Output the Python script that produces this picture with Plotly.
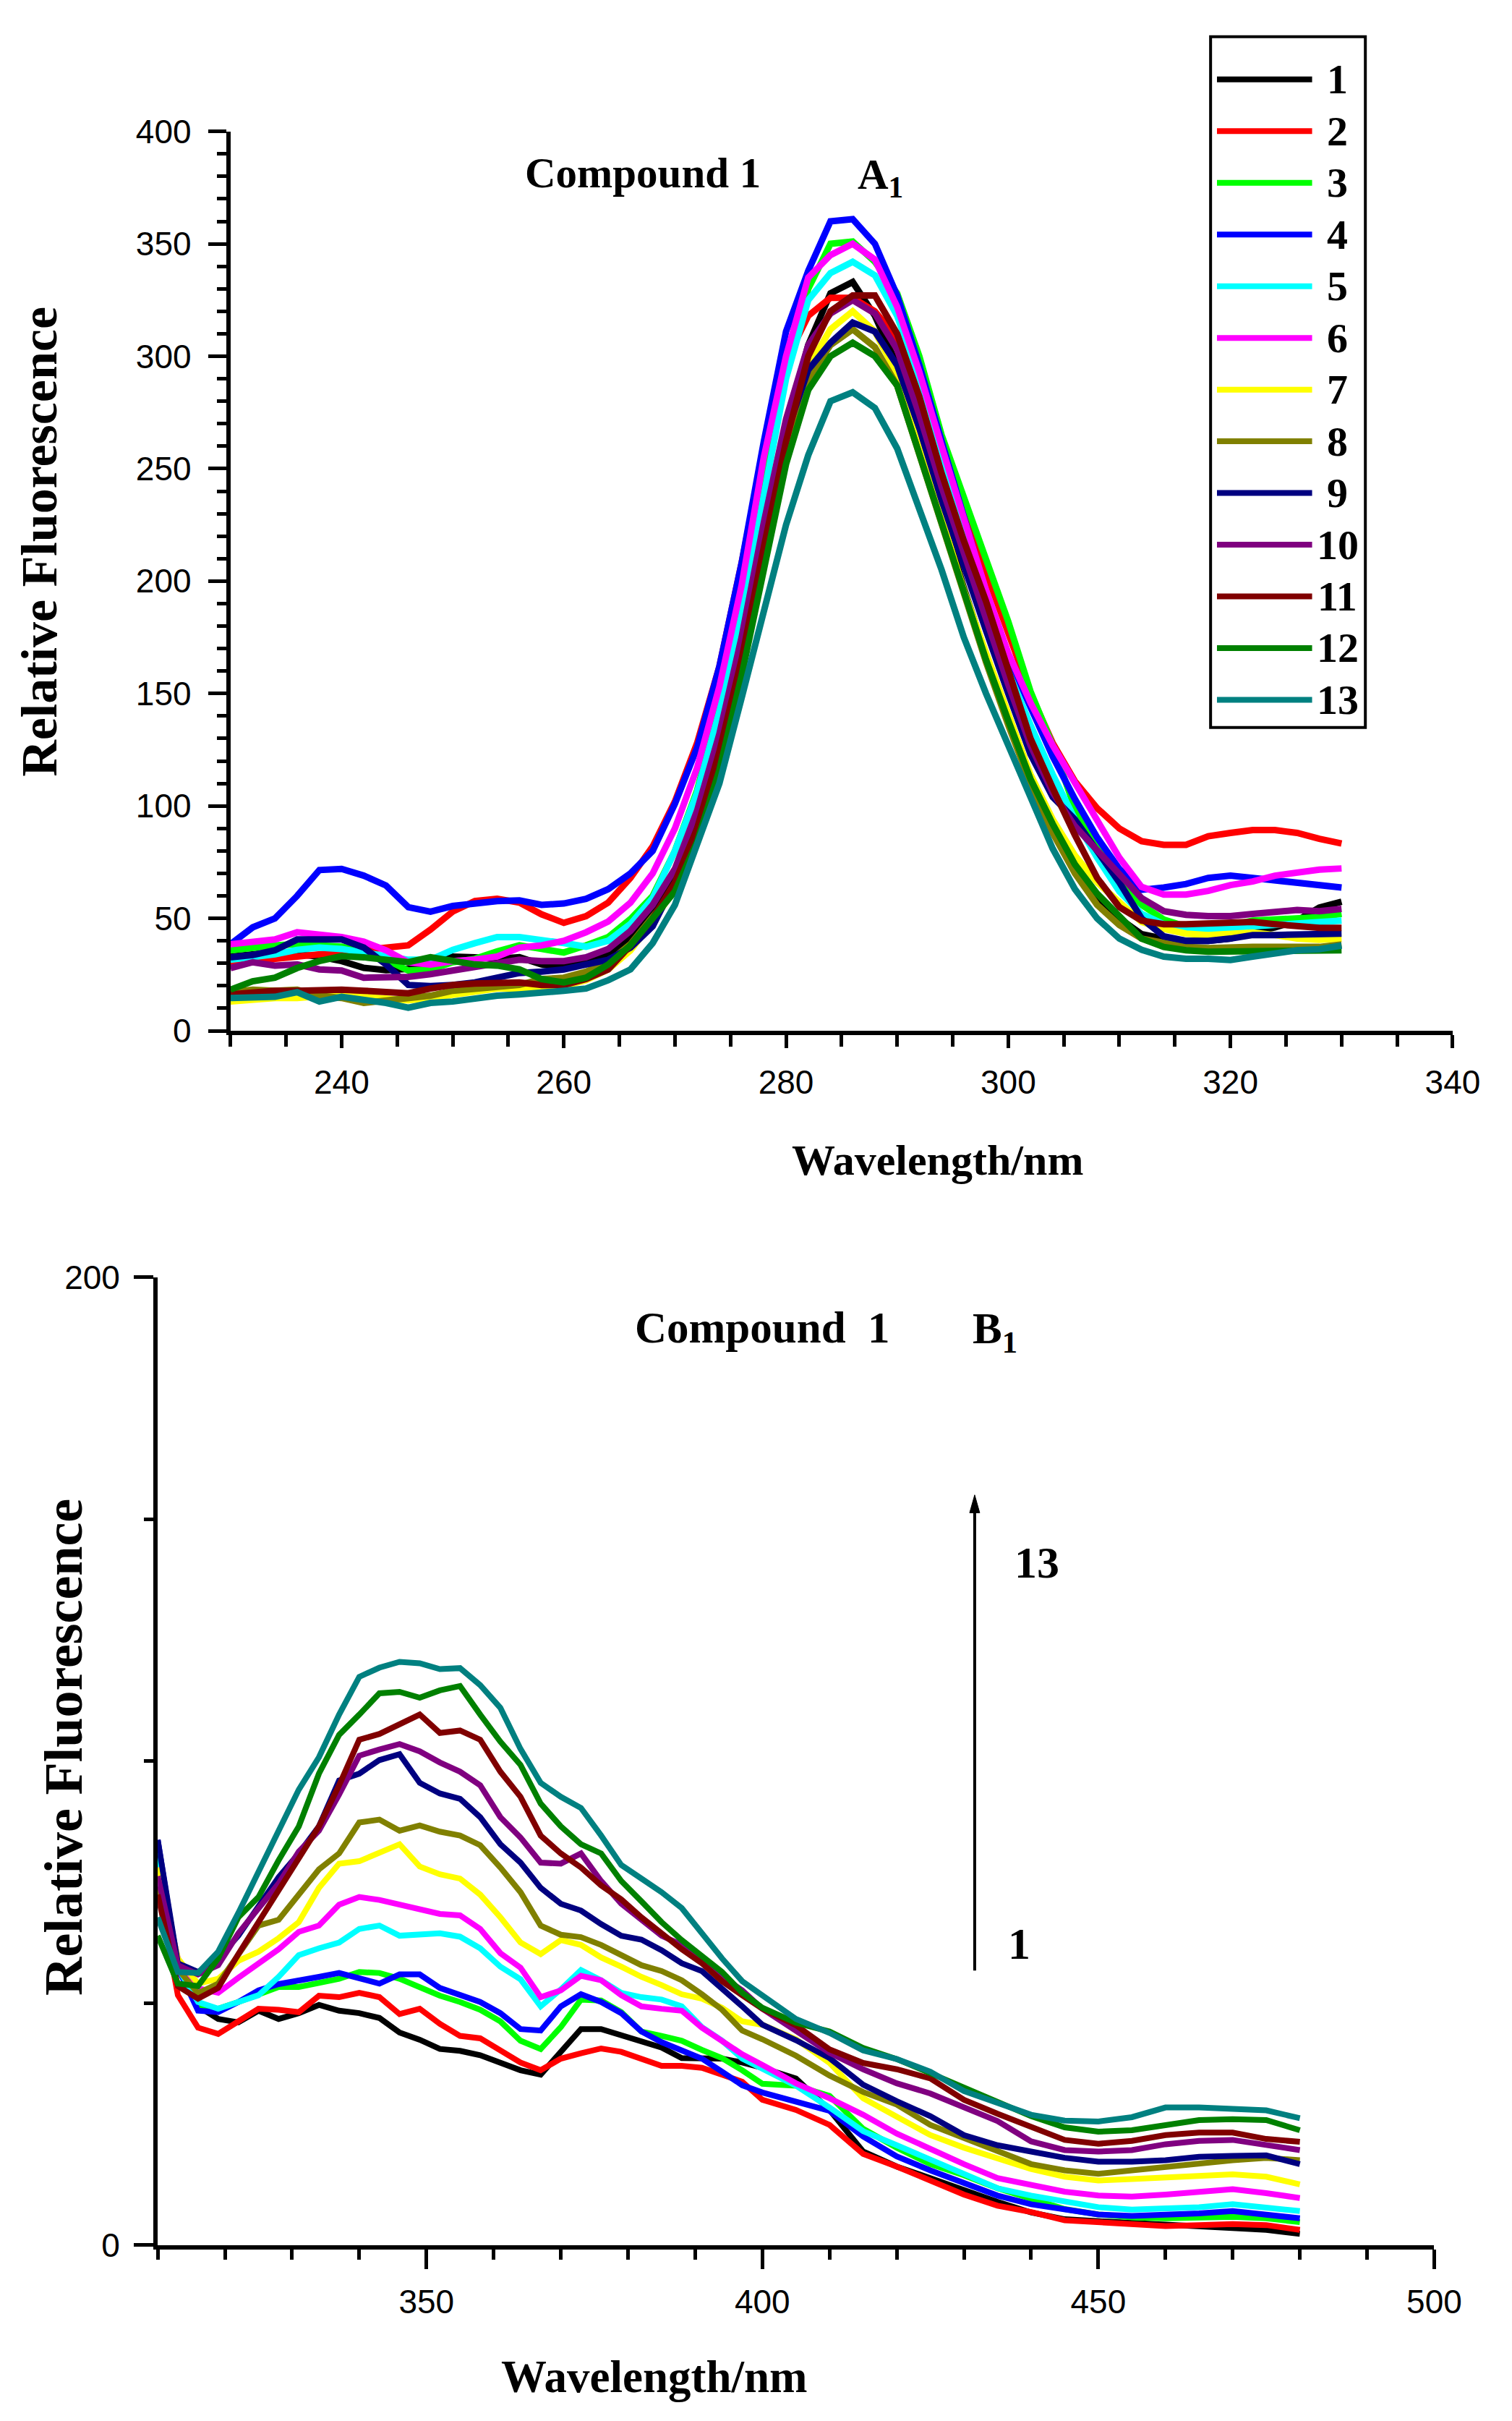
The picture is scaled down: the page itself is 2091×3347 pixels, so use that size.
import plotly.graph_objects as go

# page size of the reference picture
W, H = 2091, 3347

# ---- panel A: excitation spectra (230-330 nm) ----
wl_a = list(range(230, 331, 2))

a1 = [33, 34, 35, 34, 33, 31, 28, 27, 27.5, 30, 33, 32.7, 32, 32.7, 29.5, 28.4, 30, 33.7, 41.7, 53,
      70, 94, 128, 172, 222, 268, 305, 328, 333,
      318, 296, 265, 230, 197, 167, 138, 112, 90, 72, 59, 50, 43, 41, 40, 40, 41, 44, 46, 49, 54.8, 57.4]
a2 = [30, 31, 31.6, 32.4, 34, 34.8, 36, 37, 38, 45, 53, 57.7, 58.7, 57, 51.8, 48, 51, 57, 68, 82,
      102, 128, 162, 208, 258, 298, 318, 326, 326,
      320, 308, 285, 258, 232, 205, 176, 150, 128, 111, 99, 90, 84.3, 82.7, 82.7, 86.5, 88, 89.3, 89.3, 88, 85.4, 83.3]
a3 = [35.8, 37, 38, 38.5, 38, 37.4, 35.3, 31.6, 26.8, 27.3, 30.5, 32, 35.3, 38, 36.4, 34.8, 38, 41.7, 49.7, 60,
      80, 107, 144, 188, 240, 295, 330, 350, 351,
      342, 328, 300, 265, 238, 211, 182, 151, 127, 99, 82, 66, 56, 49.5, 46.3, 46.3, 46.8, 49, 49.5, 50, 50.5, 52]
a4 = [38.5, 46, 50, 60, 71.5, 72, 69, 64.6, 55, 53, 55.5, 56.6, 57.7, 58, 56, 56.6, 58.7, 63, 70, 80,
      101, 126, 162, 208, 262, 311, 338, 360, 361,
      350, 327, 296, 262, 228, 195, 166, 144, 122, 103, 86, 72, 62.7, 63.7, 65.3, 68, 69, 68, 66.9, 66.4, 64.8, 63.7]
a5 = [31.6, 32.7, 34, 36, 37, 36.4, 34.8, 33, 31.6, 31.6, 36, 39, 41.7, 41.7, 40, 39, 37.4, 40, 47.5, 59,
      80, 106, 142, 185, 238, 290, 325, 337, 342,
      336, 318, 290, 257, 223, 190, 160, 136, 114, 94, 77, 62, 52, 47.4, 45.8, 45.3, 45.8, 46.3, 46.8, 47.9, 48.4, 49]
a6 = [38.5, 39.6, 40.6, 43.8, 42.8, 41.7, 39.6, 35.8, 30.5, 29.5, 31, 31.6, 33, 37, 38, 40, 43.8, 48.6, 57, 70,
      90, 117, 153, 198, 255, 300, 335, 345, 350,
      343, 322, 293, 260, 227, 196, 168, 146, 127, 110, 93, 77, 64, 60.6, 60.6, 62.2, 64.8, 66.4, 69, 70.6, 71.7, 72.2]
a7 = [13, 14, 14.6, 14.6, 15.6, 16.2, 15.1, 14, 13.5, 14.6, 16.2, 17.8, 18.8, 18.8, 18.8, 19.9, 22.5, 27.3, 35.8, 48.6,
      63, 87, 120, 163, 212, 258, 295, 312, 320,
      311, 292, 262, 228, 196, 168, 140, 114, 94, 78, 66, 57, 48.4, 45.3, 43.2, 42.6, 43.2, 43.7, 42.6, 41, 40.5, 41]
a8 = [17.2, 18.3, 17.8, 18.3, 15.6, 14.6, 12.4, 13.5, 14.6, 15.6, 17.8, 18.8, 19.4, 20.4, 23, 23.6, 26.3, 30.5, 38.5, 50.7,
      63, 86, 118, 160, 208, 255, 290, 305, 312,
      304, 287, 256, 224, 194, 164, 136, 110, 88, 70, 56, 47, 41, 39, 37.3, 36.8, 37.3, 37.3, 37.3, 37.3, 37.3, 38.4]
a9 = [32.7, 33.7, 35.8, 40.6, 40.6, 40.6, 37, 29.5, 20.4, 19.9, 20.4, 21.5, 23.6, 25.7, 26.3, 27.3, 29.5, 31.6, 37, 46.5,
      66, 92, 127, 170, 220, 265, 294, 306, 315,
      311, 296, 268, 236, 206, 178, 150, 123, 104, 94, 80, 66, 50, 42, 40, 40, 41, 42.6, 42.6, 42.6, 43.2, 43.2]
a10 = [27.9, 30.5, 29, 29.5, 27.3, 26.8, 23.6, 24, 24, 25.2, 26.8, 28.4, 29.5, 31.6, 31, 31, 32.7, 36.4, 44.4, 56,
       72, 98, 132, 175, 226, 272, 305, 319, 325,
       319, 303, 274, 242, 212, 183, 154, 127, 106, 91, 80, 69.5, 59, 53.2, 51.6, 51, 51, 52, 53, 53.7, 53.2, 54.2]
a11 = [16.2, 17.2, 17.8, 17.8, 18.3, 18.3, 17.8, 17.2, 16.7, 18.8, 20.4, 21, 21.5, 21.5, 20.4, 20.4, 23, 27.3, 38, 50,
       66, 90, 124, 165, 215, 262, 300, 320, 327,
       327, 310, 282, 248, 218, 191, 160, 130, 108, 87, 68, 55, 49, 47.4, 47.4, 47.9, 48.4, 48.4, 47.4, 46.3, 45.8, 45.8]
a12 = [18.3, 22, 23.6, 27.9, 31, 33.2, 32.7, 31.6, 30.5, 32.7, 31, 29.5, 29, 27.3, 23, 21.5, 23.6, 29.5, 38, 49.7,
       62, 84, 116, 158, 205, 252, 285, 300, 306,
       300, 287, 256, 226, 195, 165, 138, 112, 92, 74, 61, 50.5, 41, 37.3, 35.8, 35.2, 35.2, 35.2, 35.2, 35.2, 35.2, 35.8]
a13 = [14.6, 14.6, 15.1, 17.2, 13, 15.1, 14, 12.4, 10.3, 12.4, 13, 14.6, 15.6, 16.2, 16.7, 17.8, 18.8, 22.5, 27.3, 39,
       56, 82, 110, 148, 187, 225, 256, 280, 284,
       277, 259, 232, 205, 175, 150, 127, 104, 81, 63, 50, 41, 36, 33, 32, 32, 31.5, 33, 34.7, 35.8, 36.3, 37.9]

# ---- panel B: emission spectra (310-480 nm) ----
wl_b = list(range(310, 401, 3)) + list(range(405, 481, 5))

b1 = [80, 58, 49.3, 46.7, 46, 48.4, 46.7, 47.9, 49.6, 48.4, 47.9, 46.9, 43.9, 42.4, 40.5, 40.1, 39.2, 37.5, 36.1, 35.2,
      39.9, 44.6, 44.6, 43.4, 42.2, 40.8, 38.6, 38.5, 38.5, 37.7, 36.6,
      34.4, 27.9, 19.3, 16.2, 13.8, 11.2, 8.9, 6.7, 5.3, 4.9, 4.6, 4.2, 3.9, 3.5, 3.1, 2.3]
b2 = [74, 51.6, 44.9, 43.6, 46.2, 48.8, 48.6, 48.1, 51.5, 51.2, 52.1, 51.2, 47.7, 48.8, 45.7, 43.2, 42.7, 40.2, 37.7, 36.1,
      38.5, 39.6, 40.6, 39.9, 38.5, 37, 37, 36.6, 35.2, 33.7, 30,
      27.9, 24.8, 18.8, 16.2, 13.3, 10.4, 8.1, 6.8, 5.1, 4.7, 4.3, 3.9, 4.1, 4.3, 4.1, 3.1]
b3 = [82, 58.2, 49.3, 48.8, 50.2, 51.8, 53.3, 53.3, 54, 55, 56.4, 56.2, 55, 53.1, 51.5, 50.2, 48.6, 46.2, 42.2, 40.5,
      45, 50.7, 50.5, 48.1, 44.1, 43.2, 42.2, 40.3, 38.6, 36.1, 33.3,
      32.9, 30.8, 24, 20.1, 16.7, 14.4, 11.7, 9.4, 7.4, 6.3, 5.7, 5.5, 5.7, 5.8, 5.5, 4.7]
b4 = [83.7, 57.3, 48.4, 48.1, 50.2, 52.6, 53.9, 54.5, 55.4, 56.2, 55.2, 54, 55.9, 55.9, 53.1, 51.6, 50.2, 47.9, 44.6, 44.3,
      49.3, 51.8, 50.2, 47.9, 44.1, 41.9, 40.1, 38.5, 35.8, 33, 31.5,
      29.5, 27.7, 22.4, 18.3, 15.4, 12.8, 10.2, 8.4, 7.2, 6.3, 6, 6.2, 6.5, 7, 6.3, 5.5]
b5 = [81, 57.3, 50.2, 48.8, 50.2, 51.6, 55.4, 59.9, 61.3, 62.5, 65.3, 66, 63.9, 64.1, 64.4, 63.7, 61.3, 57.5, 54.9, 49.3,
      52.8, 56.8, 54.7, 52.1, 51.2, 50.7, 49.3, 45, 42.2, 38.5, 36.5,
      32.9, 28.4, 23.5, 20.6, 17.7, 14.6, 11.7, 10.2, 9.1, 7.8, 7.3, 7.6, 7.8, 8.4, 7.6, 7]
b6 = [78, 59.2, 53, 52.1, 55.2, 58.2, 61.1, 64.7, 66, 70.3, 71.9, 71.3, 70.3, 69.4, 68.4, 68.1, 65.3, 60.3, 57.3, 51.2,
      52.6, 55.6, 54.7, 51.6, 49.3, 48.8, 48.4, 44.9, 42.2, 39.4, 37.2,
      33.4, 30.3, 26.9, 23, 19.8, 16.7, 13.8, 12.5, 11, 10.2, 10, 10.4, 11, 11.5, 10.7, 9.7]
b7 = [78, 59.2, 54, 55, 58.7, 60.6, 63.4, 66.7, 73.8, 78.8, 79.3, 80.9, 82.8, 78.2, 76.6, 75.7, 72.4, 67.7, 62.5, 60.1,
      63, 62, 59.4, 57.5, 55.4, 53.7, 51.8, 50.9, 49, 46.2, 45.5,
      42.5, 37.6, 30.3, 26.4, 22.7, 20.1, 18, 15.7, 14.1, 13.3, 13.6, 14, 14.4, 14.6, 14.1, 12.5]
b8 = [74, 57, 52, 54, 60, 66, 67.2, 72.4, 77.6, 80.9, 87.3, 87.9, 85.6, 86.7, 85.4, 84.6, 82.6, 78, 72.9, 66,
      64.1, 63.6, 62, 59.9, 57.8, 56.6, 54.7, 51.8, 48.6, 44.3, 42.5,
      39.1, 35, 31.6, 29, 24.8, 22.2, 19.6, 16.7, 15.4, 14.7, 15.4, 16.2, 17, 17.5, 18, 17.5]
b9 = [83.7, 58.2, 56.4, 59.2, 63.9, 70, 76, 80.9, 86.5, 96, 97.4, 100.2, 101.4, 95.5, 93.3, 92.2, 88.4, 82.8, 79, 73.8,
      70.5, 69.1, 66.3, 63.9, 63.1, 60.9, 58.2, 56.6, 53.1, 49.3, 45.5,
      42.3, 38.6, 33.1, 29.7, 26.6, 22.7, 20.6, 19.3, 18, 17.2, 17.2, 17.5, 18.2, 18.4, 18.5, 16.7]
b10 = [76.2, 57.8, 55.9, 57.8, 64.4, 69.6, 74.7, 81.3, 85.6, 93.1, 101.1, 102.4, 103.5, 102, 99.7, 97.8, 95, 88.4, 84.2, 79,
       78.8, 80.9, 75.2, 70.5, 67.2, 63.9, 62, 59.2, 55.4, 52.6, 48.8,
       44.4, 39.7, 36.3, 33.4, 31.3, 28.4, 25.6, 21.4, 19.6, 19.3, 19.6, 20.8, 21.5, 21.7, 20.8, 19.6]
b11 = [72.4, 53.5, 50.9, 53.1, 60.1, 66.7, 72.9, 80, 86.5, 95, 104.4, 105.6, 107.7, 109.6, 105.8, 106.3, 104.4, 97.8, 92.6, 84.6,
       80.9, 78, 74.3, 71.4, 67.7, 64.4, 61.1, 58.2, 54.5, 51.6, 48.8,
       45.4, 40.4, 37.6, 36.3, 34.4, 30, 27.1, 24.5, 21.7, 20.9, 21.5, 22.7, 23.2, 23.2, 21.9, 21.3]
b12 = [63.9, 54, 53.5, 59.2, 67.7, 71.9, 79.5, 86.5, 97.4, 105.4, 109.6, 114, 114.3, 113.1, 114.6, 115.5, 109.6, 104, 99.2, 91.2,
       86.5, 82.8, 80.9, 75.2, 71, 66.7, 63, 59.7, 56.4, 52.1, 49,
       45.9, 44.1, 40.7, 38.4, 35.5, 32.6, 29.8, 26.6, 24.3, 23.4, 23.7, 24.8, 25.8, 26, 25.8, 23.7]
b13 = [67.7, 56.4, 56.2, 60.6, 68.6, 77.1, 85.6, 94.1, 100.8, 109.6, 117.4, 119.3, 120.5, 120.2, 119, 119.2, 115.7, 111, 102.5, 95.5,
       92.6, 90.3, 84.6, 78.5, 75.7, 72.9, 69.6, 64.4, 59.2, 54.5, 51.6,
       46.7, 43.8, 40.2, 38.4, 35.8, 31.8, 29.5, 26.9, 25.7, 25.5, 26.4, 28.4, 28.4, 28.1, 27.8, 26.2]

labels = ["1", "2", "3", "4", "5", "6", "7", "8", "9", "10", "11", "12", "13"]
colors = ["#000000", "#FF0000", "#00FF00", "#0000FF", "#00FFFF", "#FF00FF", "#FFFF00",
          "#808000", "#000080", "#800080", "#800000", "#008000", "#008080"]

series_a = [a1, a2, a3, a4, a5, a6, a7, a8, a9, a10, a11, a12, a13]
series_b = [b1, b2, b3, b4, b5, b6, b7, b8, b9, b10, b11, b12, b13]
for s in series_a:
    assert len(s) == len(wl_a), len(s)
for s in series_b:
    assert len(s) == len(wl_b), len(s)


def px(x):
    return x / W


def py(y):
    return 1 - y / H


SERIF = "Liberation Serif, Times New Roman, serif"
SANS = "Liberation Sans, Arial, sans-serif"

fig = go.Figure()

for name, col, ys in zip(labels, colors, series_a):
    fig.add_trace(go.Scatter(x=wl_a, y=ys, mode="lines", name=name, showlegend=False,
                             line=dict(color=col, width=9), xaxis="x", yaxis="y"))

for name, col, ys in zip(labels, colors, series_b):
    fig.add_trace(go.Scatter(x=wl_b, y=ys, mode="lines", name=name, showlegend=False,
                             line=dict(color=col, width=8), xaxis="x2", yaxis="y2"))

axis_style = dict(showline=True, linecolor="black", linewidth=6, ticks="outside",
                  tickwidth=5, tickcolor="black", showgrid=False, zeroline=False,
                  tickfont=dict(family=SANS, size=46, color="black"))


def minor(length):
    return dict(ticks="outside", ticklen=length, tickwidth=5, tickcolor="black", showgrid=False)


fig.update_layout(
    width=W, height=H, autosize=False,
    margin=dict(l=0, r=0, t=0, b=0),
    paper_bgcolor="white", plot_bgcolor="white",
    showlegend=False,
    xaxis=dict(axis_style, domain=[px(316.5), px(2038)], range=[230, 340], anchor="y",
               tick0=0, dtick=20, ticklen=18, minor=minor(16), ticklabelstandoff=8),
    yaxis=dict(axis_style, domain=[py(1413), py(150)], range=[0, 400], anchor="x",
               tick0=0, dtick=50, ticklen=25, minor=minor(13), ticklabelstandoff=14),
    xaxis2=dict(axis_style, domain=[px(214), px(2012)], range=[310, 500], anchor="y2",
                tick0=0, dtick=50, ticklen=27, minor=minor(14), ticklabelstandoff=6),
    yaxis2=dict(axis_style, domain=[py(3118), py(1759)], range=[0, 200], anchor="x2",
                tick0=0, dtick=200, ticklen=27, minor=minor(13), ticklabelstandoff=10),
)

bold = dict(family=SERIF, color="black", weight="bold")
notes = [
    # panel A
    dict(text="Relative Fluorescence", x=px(48), y=py(726), textangle=-90, size=70),
    dict(text="Wavelength/nm", x=px(1312), y=py(1595), size=60),
    dict(text="Compound 1", x=px(897), y=py(208), size=59),
    dict(text="A<sub>1</sub>", x=px(1198), y=py(214), size=59, xanchor="left"),
    # panel B
    dict(text="Relative Fluorescence", x=px(82), y=py(2419), textangle=-90, size=74),
    dict(text="Wavelength/nm", x=px(914), y=py(3303), size=63),
    dict(text="Compound\u00a0 1", x=px(1066), y=py(1830), size=61),
    dict(text="B<sub>1</sub>", x=px(1360), y=py(1836), size=61, xanchor="left"),
    dict(text="13", x=px(1452), y=py(2160), size=62),
    dict(text="1", x=px(1427), y=py(2695), size=62),
]
for n in notes:
    fig.add_annotation(text=n["text"], x=n["x"], y=n["y"], xref="paper", yref="paper",
                       showarrow=False, textangle=n.get("textangle", 0),
                       xanchor=n.get("xanchor", "center"), yanchor="middle",
                       font=dict(bold, size=n["size"]))

# arrow showing the trend from 1 to 13 (shaft + narrow head, in panel-B data units)
fig.add_shape(type="line", xref="x2", yref="y2", x0=431.6, x1=431.6, y0=56.7, y1=152,
              line=dict(color="black", width=4))
fig.add_shape(type="path", xref="x2", yref="y2",
              path="M 430.85,151.3 L 432.35,151.3 L 431.6,155 Z",
              fillcolor="black", line=dict(color="black", width=1))

# legend box of panel A, drawn by hand so the line samples are long
fig.add_shape(type="rect", xref="paper", yref="paper",
              x0=px(1697), x1=px(1915), y0=py(987), y1=py(17),
              line=dict(color="black", width=4), fillcolor="white", layer="above")
for i, (name, col) in enumerate(zip(labels, colors)):
    yy = py(77 + i * 72.6)
    fig.add_shape(type="line", xref="paper", yref="paper",
                  x0=px(1706), x1=px(1840), y0=yy, y1=yy,
                  line=dict(color=col, width=8), layer="above")
    fig.add_annotation(text=name, x=px(1876), y=yy, xref="paper", yref="paper",
                       showarrow=False, xanchor="center", yanchor="middle",
                       font=dict(bold, size=58))

fig.write_html("out.html")
